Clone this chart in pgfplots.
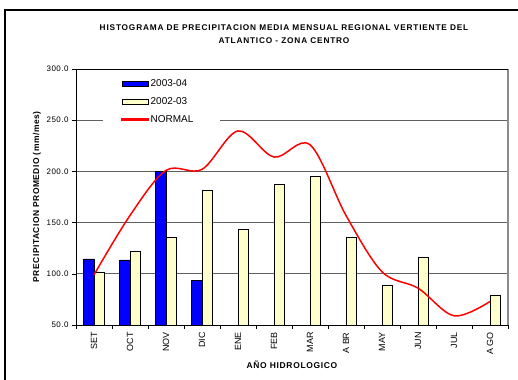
\documentclass[border=0pt]{standalone}
\usepackage{fontspec}
\setmainfont{Liberation Sans}
\usepackage{pgfplots}
\pgfplotsset{compat=1.18}
\definecolor{azul}{HTML}{0000FF}
\definecolor{crema}{HTML}{FFFFCC}
\definecolor{rojo}{HTML}{FF0000}
\definecolor{rejilla}{HTML}{606060}

\begin{document}
\begin{tikzpicture}
  \begin{axis}[
      at={(0,0)}, anchor=south west,
      scale only axis,
      width=432bp, height=256bp,
      xmin=-0.5, xmax=11.5,
      ymin=50, ymax=300,
      ytick distance=50,
      xtick={-0.5,0.5,...,11.5},
      x tick label as interval,
      xticklabels={SET,OCT,NOV,DIC,ENE,FEB,MAR,A BR,MAY,JUN,JUL,A GO},
      xticklabel style={rotate=90, anchor=east, font=\fontsize{9}{10}\selectfont},
      yticklabel style={font=\fontsize{8}{9}\selectfont\addfontfeatures{LetterSpace=6}},
      /pgf/number format/assume math mode=true,
      yticklabel={\pgfmathprintnumber[fixed,fixed zerofill,precision=1]{\tick}},
      tick align=outside,
      major tick length=4bp,
      xtick pos=bottom, ytick pos=left,
      tick style={black, line width=0.6pt},
      ymajorgrids,
      grid style={rejilla, line width=0.7pt},
      axis line style={black, line width=0.8pt},
      ylabel={\bfseries\addfontfeatures{LetterSpace=6}PRECIPITACION PROMEDIO (mm/mes)},
      ylabel style={font=\fontsize{8.5}{9}\selectfont, yshift=-1bp},
      xlabel={\bfseries\addfontfeatures{LetterSpace=8}AÑO HIDROLOGICO},
      xlabel style={font=\fontsize{8.5}{9}\selectfont, yshift=1bp},
      legend style={at={(0.0625,0.975)}, anchor=north west, draw=none,
        fill=white, font=\fontsize{10}{11}\selectfont,
        row sep=5.5bp, inner xsep=18bp, inner ysep=2bp},
      legend cell align=left,
      clip=false,
    ]
    % blank strip behind the legend, as in the original
    \fill[white] (axis cs:0.25,246) rectangle (axis cs:3.5,254);
    \addplot[ybar, bar width=10.5bp, bar shift=-5.25bp,
      fill=azul, draw=black, line width=0.5pt,
      legend image code/.code={\draw[fill=azul,draw=black,line width=0.4pt] (0bp,-2.5bp) rectangle (26bp,3bp);}]
      coordinates {(0,114.5) (1,113.5) (2,200) (3,93.6)};
    \addlegendentry{2003-04}
    \addplot[ybar, bar width=10.5bp, bar shift=5.25bp,
      fill=crema, draw=black, line width=0.5pt,
      legend image code/.code={\draw[fill=crema,draw=black,line width=0.4pt] (0bp,-2.5bp) rectangle (26bp,3bp);}]
      coordinates {(0,101.8) (1,121.6) (2,135.3) (3,182) (4,143.7) (5,187.7)
        (6,194.8) (7,135.3) (8,88.7) (9,116.4) (11,78.6)};
    \addlegendentry{2002-03}
    \addplot[draw=rojo, line width=1.5pt, smooth, tension=0.55, mark=none,
      legend image code/.code={\fill[rojo] (0bp,-0.8bp) rectangle (26bp,0.8bp);}]
      coordinates {(0,99) (1,157) (2,201) (3,202) (4,239.5) (5,214) (6,226)
        (7,157) (8,102) (9,86) (10,59) (11,73)};
    \addlegendentry{NORMAL}
    \draw[black!45, line width=1.2pt] (rel axis cs:1,0) -- (rel axis cs:1,1);
    \draw[black, line width=1pt] (rel axis cs:0,1) -- (rel axis cs:1,1);
  \end{axis}
  \node[align=center, font=\fontsize{8.3}{13.5}\selectfont\bfseries\addfontfeatures{LetterSpace=10}]
    at (208bp,291bp) {HISTOGRAMA DE PRECIPITACION MEDIA MENSUAL REGIONAL VERTIENTE DEL\\ATLANTICO - ZONA CENTRO};
  \draw[black, line width=1.3pt] (-71bp,-80bp) rectangle (470bp,315bp);
  \pgfresetboundingbox
  \useasboundingbox (-76bp,-55bp) rectangle (442bp,325bp);
\end{tikzpicture}
\end{document}
